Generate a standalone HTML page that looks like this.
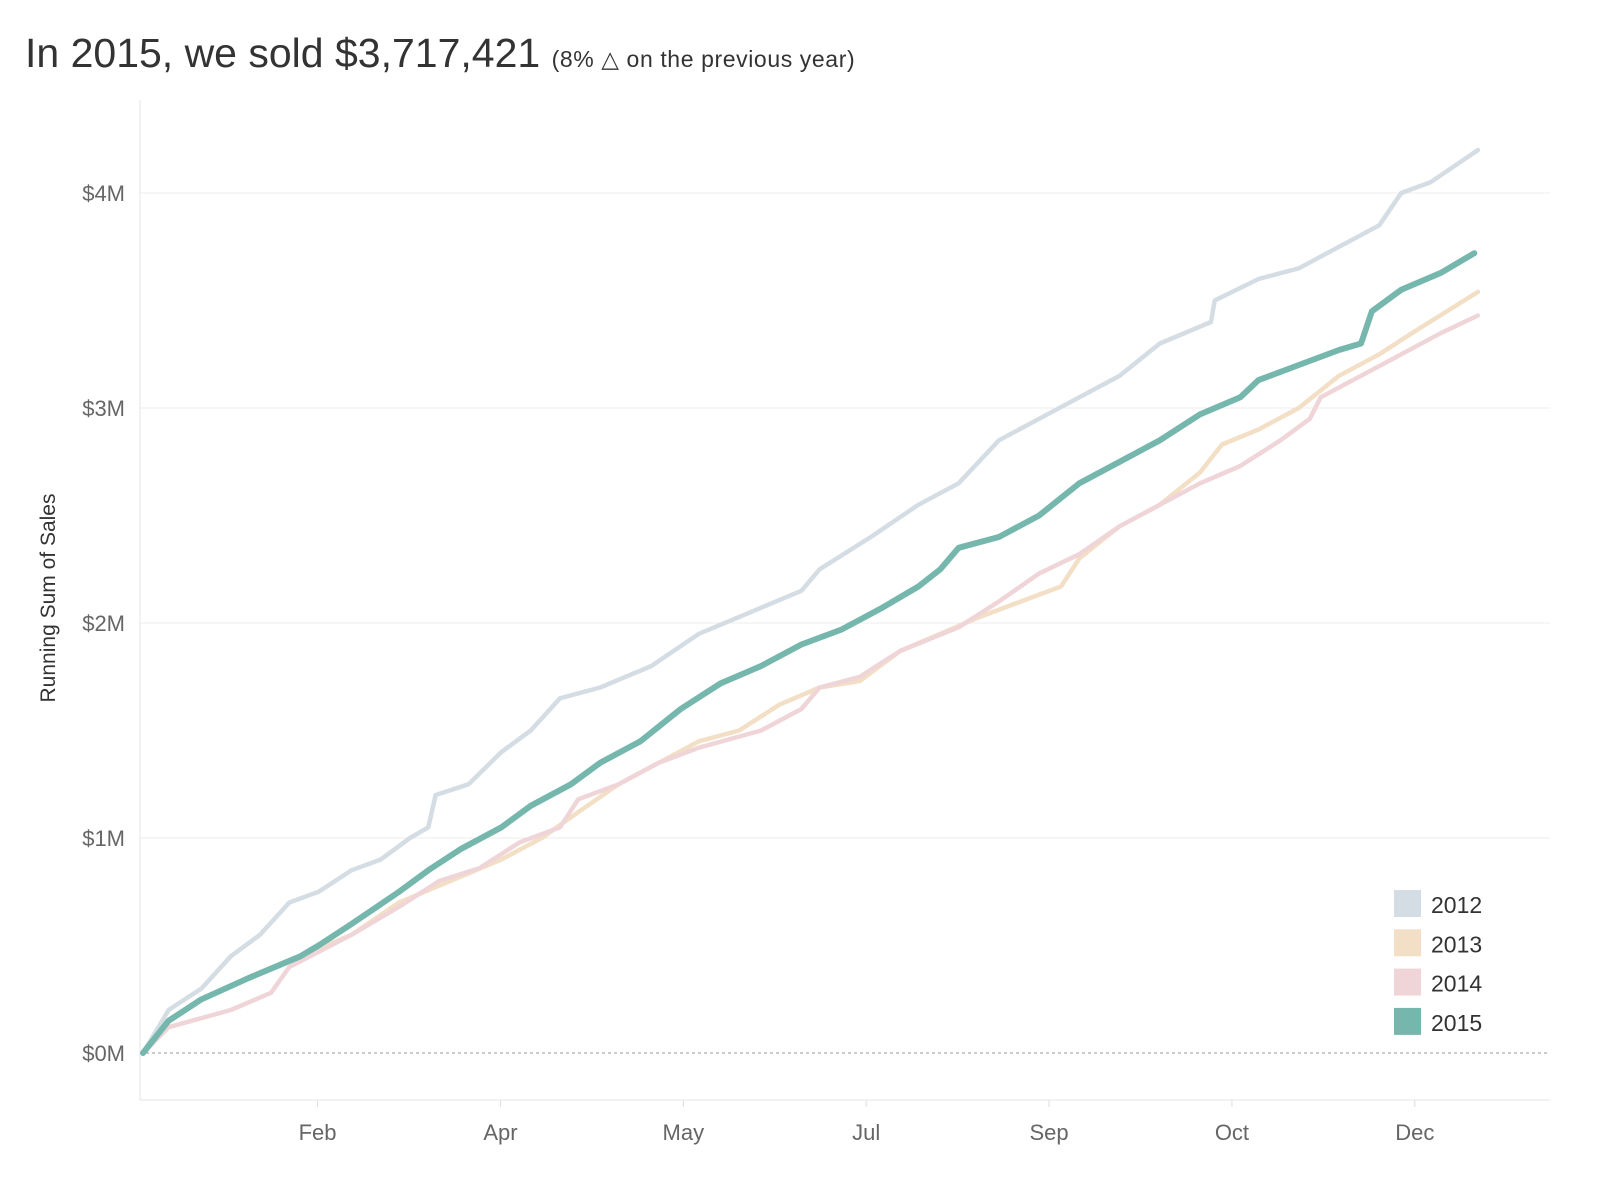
<!DOCTYPE html>
<html><head><meta charset="utf-8"><style>
body{margin:0;background:#fff;font-family:"Liberation Sans",sans-serif;}
svg{display:block}
</style></head><body>
<svg id="chart" width="1600" height="1200">
<text x="25" y="67" font-size="41" fill="#333">In 2015, we sold $3,717,421 <tspan font-size="23" letter-spacing="0.6" fill="#333">(8% △ on the previous year)</tspan></text>
<g id="grid"></g>
<line x1="140" y1="100" x2="140" y2="1100" stroke="#e6e6e6"/>
<line x1="140" y1="1100" x2="1550" y2="1100" stroke="#e6e6e6"/>
<text transform="translate(55,598) rotate(-90)" text-anchor="middle" font-size="21" fill="#333">Running Sum of Sales</text>
<g id="series"></g>
<g id="legend"></g>
</svg>
<script>
const yTicks=[0,1,2,3,4];
const yTickLabels=["$0M","$1M","$2M","$3M","$4M"];
const xLabels=["Feb","Apr","May","Jul","Sep","Oct","Dec"];
const xLabelDays=[48,98,148,198,248,298,348];
const years=["2012","2013","2014","2015"];
const colors=["#d5dde4","#f3dfc5","#f0d5d8","#75b7ad"];
const days2012=[0,7,16,24,32,40,48,57,65,73,78,80,89,98,106,114,125,139,152,166,180,185,199,212,223,234,245,256,267,278,292,293,305,316,327,338,344,352,365];
const vals2012=[0,0.2,0.3,0.45,0.55,0.7,0.75,0.85,0.9,1.0,1.05,1.2,1.25,1.4,1.5,1.65,1.7,1.8,1.95,2.05,2.15,2.25,2.4,2.55,2.65,2.85,2.95,3.05,3.15,3.3,3.4,3.5,3.6,3.65,3.75,3.85,4.0,4.05,4.2];
const days2013=[0,7,16,29,43,57,70,84,98,109,119,130,141,152,163,174,185,196,207,218,229,240,251,256,267,278,289,295,305,316,327,338,349,365];
const vals2013=[0,0.15,0.25,0.35,0.45,0.55,0.7,0.8,0.9,1.0,1.12,1.25,1.35,1.45,1.5,1.62,1.7,1.73,1.87,1.95,2.03,2.1,2.17,2.3,2.45,2.55,2.7,2.83,2.9,3.0,3.15,3.25,3.37,3.54];
const days2014=[0,7,24,35,40,57,70,81,92,103,114,119,130,141,152,169,180,185,196,207,223,234,245,256,267,278,289,300,311,319,322,333,344,355,365];
const vals2014=[0,0.12,0.2,0.28,0.4,0.55,0.68,0.8,0.86,0.98,1.05,1.18,1.25,1.35,1.42,1.5,1.6,1.7,1.75,1.87,1.98,2.1,2.23,2.32,2.45,2.55,2.65,2.73,2.85,2.95,3.05,3.15,3.25,3.35,3.43];
const days2015=[0,7,16,29,43,48,57,70,78,87,98,106,117,125,136,147,158,169,180,191,202,212,218,223,234,245,256,267,278,289,300,305,316,327,333,336,344,355,364];
const vals2015=[0,0.15,0.25,0.35,0.45,0.5,0.6,0.75,0.85,0.95,1.05,1.15,1.25,1.35,1.45,1.6,1.72,1.8,1.9,1.97,2.07,2.17,2.25,2.35,2.4,2.5,2.65,2.75,2.85,2.97,3.05,3.13,3.2,3.27,3.3,3.45,3.55,3.63,3.72];
const seriesDays=[days2012,days2013,days2014,days2015];
const seriesVals=[vals2012,vals2013,vals2014,vals2015];
const NS="http://www.w3.org/2000/svg";
const xs=d=>143+d*(1478-143)/365;
const ys=v=>1053-v*215;
function mk(t,a,p){const e=document.createElementNS(NS,t);for(const k in a)e.setAttribute(k,a[k]);p.appendChild(e);return e;}
const grid=document.getElementById('grid');
yTicks.forEach((v,i)=>{
  const l=mk('line',{x1:140,x2:1550,y1:ys(v),y2:ys(v),stroke:v===0?'#999':'#ececec','stroke-dasharray':v===0?'3,3':'none'},grid);
  
  
  const t=mk('text',{x:125,y:ys(v)+8,'text-anchor':'end','font-size':22,fill:'#666'},grid);
  t.textContent=yTickLabels[i];
  
  
});
xLabels.forEach((s,i)=>{
  const t=mk('text',{x:xs(xLabelDays[i])-1,y:1140,'text-anchor':'middle','font-size':22,fill:'#666'},grid);
  t.textContent=s;
  
  
  const k=mk('line',{x1:xs(xLabelDays[i])-1,x2:xs(xLabelDays[i])-1,y1:1100,y2:1107,stroke:'#ddd'},grid);
  
  
});
const sg=document.getElementById('series');
years.forEach((y,i)=>{
  const pts=seriesDays[i].map((d,j)=>xs(d).toFixed(1)+','+ys(seriesVals[i][j]).toFixed(1)).join(' ');
  const p=mk('polyline',{points:pts,fill:'none',stroke:colors[i],'stroke-width':i===3?6:4.5,'stroke-linejoin':'round','stroke-linecap':'round'},sg);
  
  
});
const lg=document.getElementById('legend');
years.forEach((y,i)=>{
  const r=mk('rect',{x:1394,y:890+i*39.3,width:27,height:27,fill:colors[i]},lg);
  
  
  const t=mk('text',{x:1431,y:913+i*39.3,'font-size':23,fill:'#333'},lg);
  t.textContent=y;
  
  
});
</script>
</body></html>
